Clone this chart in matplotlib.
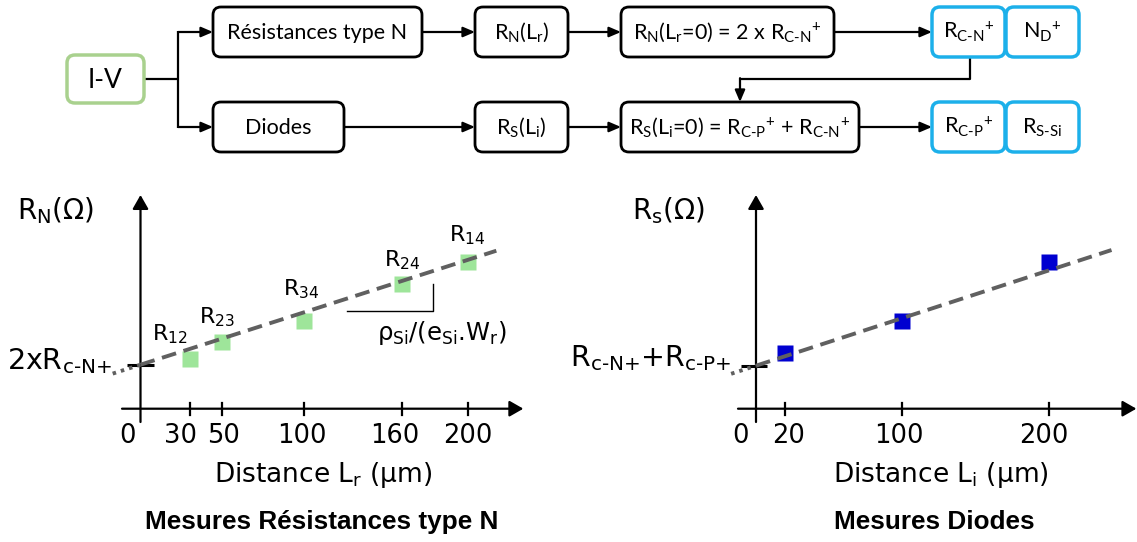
import matplotlib
matplotlib.use('Agg')
import matplotlib.pyplot as plt
from matplotlib.patches import FancyBboxPatch
from matplotlib.lines import Line2D

plt.rcParams['mathtext.fontset'] = 'custom'
plt.rcParams['mathtext.rm'] = 'Lato'
plt.rcParams['mathtext.it'] = 'Lato:italic'
plt.rcParams['mathtext.bf'] = 'Lato:bold'

# ---------------- data ----------------
dist_N = [30, 50, 100, 160, 200]          # L_r (µm)
res_N = [50, 67, 88, 125, 147]            # R_N (arb.)
labels_N = ['12', '23', '34', '24', '14']
xticks_N = [30, 50, 100, 160, 200]
fit_N_intercept = 44
fit_N_slope = 0.524

dist_D = [20, 100, 200]                   # L_i (µm)
res_D = [56, 88, 147]                     # R_s (arb.)
xticks_D = [20, 100, 200]
fit_D_intercept = 43
fit_D_slope = 0.476

# ---------------- figure ----------------
W, H = 1137, 542
fig = plt.figure(figsize=(W / 100, H / 100), dpi=100)

ax0 = fig.add_axes([0, 0, 1, 1])
ax0.set_xlim(0, W)
ax0.set_ylim(H, 0)
ax0.axis('off')

DIA_FONT = 'Lato'
CH_FONT = 'DejaVu Sans'


def box(x0, y0, x1, y1, text, ec='black', lw=2.0, fs=15.5, dy=7):
    p = FancyBboxPatch((x0, y0), x1 - x0, y1 - y0,
                       boxstyle='round,pad=0,rounding_size=8',
                       fc='white', ec=ec, lw=lw, zorder=3)
    ax0.add_patch(p)
    ax0.text((x0 + x1) / 2, (y0 + y1) / 2 + dy, text, ha='center', va='baseline',
             fontsize=fs, family=DIA_FONT, math_fontfamily='custom', zorder=4)


def arrow(x0, y0, x1, y1):
    ax0.annotate('', xy=(x1, y1), xytext=(x0, y0),
                 arrowprops=dict(arrowstyle='-|>,head_length=0.7,head_width=0.3',
                                 mutation_scale=10, lw=1.6, color='black',
                                 shrinkA=0, shrinkB=0), zorder=2)


def seg(xs, ys, lw=1.6):
    ax0.add_line(Line2D(xs, ys, color='black', lw=lw, zorder=2, solid_capstyle='butt'))


def sub(s):
    return r'$\mathregular{_{\text{%s}}}$' % s


def subsup(s, p):
    return r'$\mathregular{_{\text{%s}}{}^{%s}}$' % (s, p)


green = '#a9d18e'
blue = '#1cb0ea'

# flowchart boxes
box(67, 55, 144, 103, 'I-V', ec=green, lw=2.5, fs=19, dy=9)
box(213, 7, 422, 57, 'Résistances type N')
box(475, 7, 568, 57, 'R' + sub('N') + '(L' + sub('r') + ')')
box(621, 7, 834, 57, 'R' + sub('N') + '(L' + sub('r') + '=0) = 2 x R' + subsup('C-N', '+'))
box(932, 7, 1005, 57, 'R' + subsup('C-N', '+'), ec=blue, lw=2.5)
box(1006, 7, 1079, 57, 'N' + subsup('D', '+'), ec=blue, lw=2.5)
box(213, 102, 344, 152, 'Diodes')
box(475, 102, 568, 152, 'R' + sub('S') + '(L' + sub('i') + ')')
box(621, 102, 859, 152, 'R' + sub('S') + '(L' + sub('i') + '=0) = R' + subsup('C-P', '+')
    + ' + R' + subsup('C-N', '+'))
box(932, 102, 1005, 152, 'R' + subsup('C-P', '+'), ec=blue, lw=2.5)
box(1006, 102, 1079, 152, 'R' + sub('S-Si'), ec=blue, lw=2.5)

# flowchart connectors
seg([144, 178], [79, 79])
seg([178, 178], [31.2, 127.8])
arrow(178, 32, 213, 32)
arrow(178, 127, 213, 127)
arrow(422, 32, 475, 32)
arrow(344, 127, 475, 127)
arrow(568, 32, 621, 32)
arrow(568, 127, 621, 127)
arrow(834, 32, 932, 32)
arrow(859, 127, 932, 127)
seg([970, 970, 740], [57, 79, 79])
arrow(740, 78.2, 740, 102)


# ---------------- charts ----------------
def px_axes(x0px, y0px, sx, sy, xlim, ylim):
    left = x0px + xlim[0] * sx
    right = x0px + xlim[1] * sx
    top = y0px - ylim[1] * sy
    bottom = y0px - ylim[0] * sy
    ax = fig.add_axes([left / W, 1 - bottom / H, (right - left) / W, (bottom - top) / H])
    ax.set_xlim(*xlim)
    ax.set_ylim(*ylim)
    ax.axis('off')
    return ax


TICK_FS = 18.5


def draw_chart(ax, xs, ys, color, ticks, tick_dx, x_start, x_tip, intercept, slope,
               x_dot0, x_end, zero_x, mark_x0, mark_x1):
    ap = dict(arrowstyle='-|>,head_length=0.7,head_width=0.4', mutation_scale=12,
              lw=1.6, color='black', shrinkA=0, shrinkB=0)
    ax.annotate('', xy=(x_tip, 0), xytext=(x_start, 0), arrowprops=ap,
                annotation_clip=False)
    ax.annotate('', xy=(0, 213.7), xytext=(0, -13.3), arrowprops=ap,
                annotation_clip=False)
    for t, dx in zip(ticks, tick_dx):
        ax.plot([t, t], [-6, 6], color='black', lw=1.6, clip_on=False)
        ax.annotate(str(t), xy=(t, -27), xytext=(dx * 0.72, 0), textcoords='offset points',
                    ha='center', va='center', fontsize=TICK_FS, family=CH_FONT,
                    annotation_clip=False)
    ax.text(zero_x, -27, '0', ha='center', va='center', fontsize=TICK_FS,
            family=CH_FONT, clip_on=False)
    # intercept marker
    ax.plot([mark_x0, mark_x1], [intercept, intercept], color='black', lw=2.2,
            solid_capstyle='butt', clip_on=False, zorder=3)
    # data squares
    ax.plot(xs, ys, 's', ms=11.5, mec='none', color=color, zorder=2, clip_on=False)
    # fit line
    ax.plot([x_dot0, 0], [intercept + slope * x_dot0, intercept], color='#606060',
            lw=2.8, linestyle=(0, (0.9, 1.3)), clip_on=False, zorder=4)
    ax.plot([0, x_end], [intercept, intercept + slope * x_end], color='#606060',
            lw=2.8, linestyle=(0, (3.8, 2.0)), clip_on=False, zorder=4)


axL = px_axes(140.5, 408.7, 1.636, 1.0, (-25, 240), (-20, 220))
draw_chart(axL, dist_N, res_N, '#9ee59a', xticks_N, [-9, 1, -2, -8, 0], -11.3, 234,
           fit_N_intercept, fit_N_slope, -17, 217.5, -8, -8.3, 8.3)

axR = px_axes(756, 408.7, 1.463, 1.0, (-25, 262), (-20, 220))
draw_chart(axR, dist_D, res_D, '#0000d0', xticks_D, [3, -3, -5], -12.3, 260,
           fit_D_intercept, fit_D_slope, -17, 243, -10.3, -10.5, 7.5)

# point labels (left chart)
label_dx = [-20, -5, -3, 0, 0]
label_dy = [18, 18, 25, 17, 20]
for x, y, lab, dx, dy in zip(dist_N, res_N, labels_N, label_dx, label_dy):
    axL.annotate('R' + r'$\mathregular{_{%s}}$' % lab, xy=(x, y),
                 xytext=(dx * 0.72, dy * 0.72), textcoords='offset points',
                 ha='center', va='baseline', fontsize=16, family=CH_FONT,
                 math_fontfamily='dejavusans', annotation_clip=False)

# slope triangle
axL.plot([126, 178.5, 178.5], [97.7, 97.7, 124.7], color='black', lw=1.0,
         clip_on=False)


# chart texts in pixel space
def ctext(x, y, s, size, ha='left', va='baseline', weight='normal', family=CH_FONT):
    ax0.text(x, y, s, fontsize=size, ha=ha, va=va, family=family, weight=weight,
             math_fontfamily='dejavusans')


ctext(17, 219, r'R$\mathregular{_N}$(Ω)', 20)
ctext(632, 219, r'R$\mathregular{_s}$(Ω)', 20)
ctext(112, 369, r'2xR$\mathregular{_{\text{c-N+}}}$', 20.5, ha='right')
ctext(731, 366, r'R$\mathregular{_{\text{c-N+}}}$+R$\mathregular{_{\text{c-P+}}}$', 20.5,
      ha='right')
ctext(377, 340, r'ρ$\mathregular{_{Si}}$/(e$\mathregular{_{Si}}$.W$\mathregular{_r}$)', 17.5)
ctext(323, 482, r'Distance L$\mathregular{_r}$ (µm)', 19, ha='center')
ctext(941, 482, r'Distance L$\mathregular{_i}$ (µm)', 19, ha='center')
ctext(322, 529, 'Mesures Résistances type N', 18.8, ha='center', weight='bold',
      family='Liberation Sans')
ctext(934, 529, 'Mesures Diodes', 18.8, ha='center', weight='bold',
      family='Liberation Sans')

fig.savefig('out.png', dpi=100)
